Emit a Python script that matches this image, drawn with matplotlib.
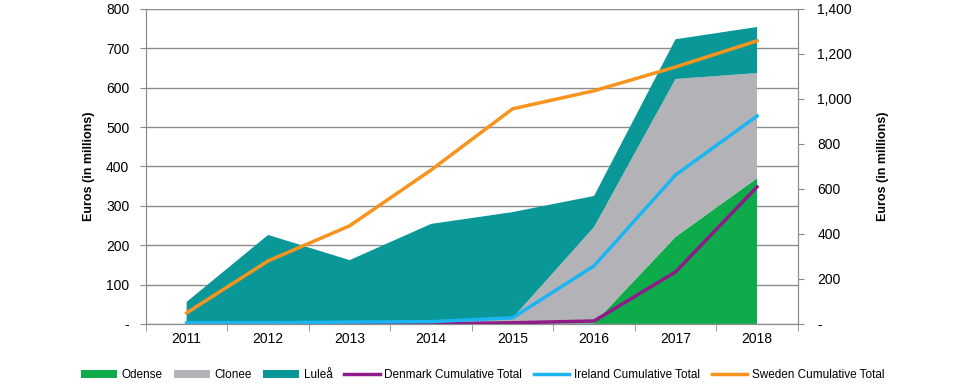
import matplotlib
matplotlib.use('Agg')
from matplotlib import pyplot as plt
from matplotlib.ticker import FuncFormatter, MultipleLocator
import numpy as np

years = ['2011', '2012', '2013', '2014', '2015', '2016', '2017', '2018']
odense = [0, 0, 0, 0, 0, 2, 221, 370]
clonee = [0, 0, 0, 0, 15, 244, 401, 267]
lulea = [56, 226, 162, 254, 269, 79, 101, 117]
denmark_cum = [0, 0, 0, 0, 5, 13, 231, 609]
ireland_cum = [5, 5, 8, 10, 27, 258, 662, 924]
sweden_cum = [49, 280, 436, 684, 956, 1036, 1142, 1258]

plt.rcParams['font.family'] = ['Liberation Sans', 'DejaVu Sans']

fig = plt.figure(figsize=(9.6, 3.87), dpi=100)
ax = fig.add_axes([0.152, 0.163, 0.679, 0.814])
x = np.arange(len(years))

# stacked areas on the left axis
ax.stackplot(x, odense, clonee, lulea,
             colors=['#0DAB4A', '#B3B3B7', '#0A9797'],
             labels=['Odense', 'Clonee', 'Luleå'], linewidth=0)
ax.set_xlim(-0.5, len(years) - 0.5)
ax.set_ylim(0, 800)
ax.yaxis.set_major_locator(MultipleLocator(100))
ax.yaxis.set_major_formatter(FuncFormatter(lambda v, p: '-' if v == 0 else f'{v:.0f}'))
ax.grid(axis='y', color='#8C8C8C', linewidth=1)
ax.set_axisbelow(True)
ax.set_xticks(x)
ax.set_xticklabels(years)
ax.set_xticks(np.arange(-0.5, len(years)), minor=True)
ax.tick_params(axis='x', which='major', length=0, labelsize=10, pad=6)
ax.tick_params(axis='x', which='minor', length=5, color='#8C8C8C', direction='out')
ax.tick_params(axis='y', length=4, color='#8C8C8C', labelsize=10, pad=8)
ax.set_ylabel('Euros (in millions)', fontsize=9, fontweight='bold', labelpad=8)
ax.spines['top'].set_visible(False)
for s in ['left', 'bottom', 'right']:
    ax.spines[s].set_color('#8C8C8C')

# cumulative lines on the right axis
ax2 = ax.twinx()
ax2.plot(x, denmark_cum, color='#8E1B87', linewidth=2.5, label='Denmark Cumulative Total')
ax2.plot(x, ireland_cum, color='#1BB5F2', linewidth=2.5, label='Ireland Cumulative Total')
ax2.plot(x, sweden_cum, color='#F7941E', linewidth=2.5, label='Sweden Cumulative Total')
ax2.set_ylim(0, 1400)
ax2.yaxis.set_major_locator(MultipleLocator(200))
ax2.yaxis.set_major_formatter(FuncFormatter(lambda v, p: '-' if v == 0 else f'{v:,.0f}'))
ax2.tick_params(axis='y', length=4, color='#8C8C8C', labelsize=10, pad=10)
ax2.set_ylabel('Euros (in millions)', fontsize=9, fontweight='bold', labelpad=18)
ax2.spines['top'].set_visible(False)
for s in ['left', 'bottom', 'right']:
    ax2.spines[s].set_color('#8C8C8C')

h1, l1 = ax.get_legend_handles_labels()
h2, l2 = ax2.get_legend_handles_labels()
fig.legend(h1 + h2, l1 + l2, loc='center', bbox_to_anchor=(0.503, 0.03), ncol=6,
           frameon=False, fontsize=8.5, handlelength=3.0, handleheight=0.6,
           columnspacing=1.0, handletextpad=0.4)

fig.savefig('out.png', dpi=100)
